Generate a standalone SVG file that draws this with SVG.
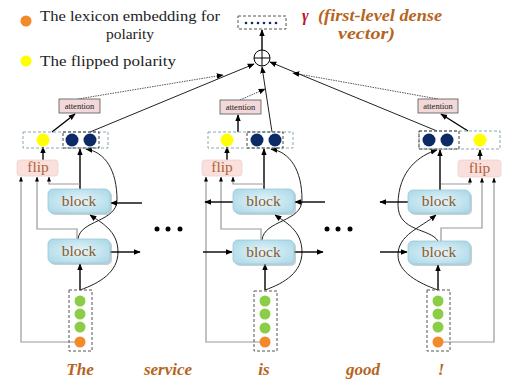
<svg xmlns="http://www.w3.org/2000/svg" width="505" height="381" viewBox="0 0 505 381">
<defs>
<marker id="ah" viewBox="0 0 10 10" refX="9" refY="5" markerWidth="7" markerHeight="7" orient="auto-start-reverse" markerUnits="userSpaceOnUse"><path d="M0,1 L10,5 L0,9 Z" fill="#000"/></marker>
<marker id="ahs" viewBox="0 0 10 10" refX="9" refY="5" markerWidth="5" markerHeight="5" orient="auto" markerUnits="userSpaceOnUse"><path d="M0,1 L10,5 L0,9 Z" fill="#000"/></marker>
<radialGradient id="bg" cx="0.5" cy="0.5" r="0.7"><stop offset="0" stop-color="#e6f5fa"/><stop offset="1" stop-color="#a6d6e6"/></radialGradient>
</defs>
<style>
.t{font-family:"Liberation Serif","DejaVu Serif",serif;}
.blk{fill:url(#bg);stroke:#9cc8d8;stroke-width:0.8;}
.sh{fill:#7a98a4;opacity:0.45;}
.btx{font-family:"Liberation Serif",serif;font-size:15.5px;fill:#8b5a2b;text-anchor:middle;}
.flip{fill:#f9e0dc;stroke:#f3d0cc;stroke-width:0.8;}
.ftx{font-family:"Liberation Serif",serif;font-size:15.5px;fill:#b0603a;text-anchor:middle;}
.att{fill:#f2d8d8;stroke:#555;stroke-width:0.8;}
.atx{font-family:"Liberation Serif",serif;font-size:8.5px;fill:#222;text-anchor:middle;}
.od{fill:none;stroke:#8aa8b4;stroke-width:1;stroke-dasharray:3,2;}
.id{fill:none;stroke:#444;stroke-width:1;stroke-dasharray:3,2;}
.wb{fill:none;stroke:#555;stroke-width:1;stroke-dasharray:3,2;}
.g{fill:#8ccd48;}
.o{fill:#f28a2a;}
.y{fill:#ffff00;}
.d{fill:#0b2a66;}
.k{fill:none;stroke:#000;stroke-width:1.4;marker-end:url(#ah);}
.kc{fill:none;stroke:#222;stroke-width:1;marker-end:url(#ah);}
.gr{fill:none;stroke:#999;stroke-width:1.2;marker-end:url(#ahs);}
.dot{fill:none;stroke:#444;stroke-width:0.9;stroke-dasharray:1.5,1;marker-end:url(#ah);}
.word{font-family:"Liberation Serif",serif;font-size:17px;font-style:italic;font-weight:bold;fill:#b5651d;text-anchor:middle;}
</style>
<rect width="505" height="381" fill="#fff"/>

<g id="legend">
<circle cx="26" cy="21" r="5.5" class="o"/>
<text class="t" x="40" y="21" font-size="15.5" textLength="180" lengthAdjust="spacingAndGlyphs" fill="#222">The lexicon embedding for</text>
<text class="t" x="130" y="39" font-size="15.5" text-anchor="middle" fill="#222">polarity</text>
<circle cx="26" cy="61" r="5.5" class="y"/>
<text class="t" x="40" y="66" font-size="15.5" textLength="136" lengthAdjust="spacingAndGlyphs" fill="#222">The flipped polarity</text>
</g>

<g id="output">
<rect x="238" y="16" width="48" height="13" class="wb"/>
<g class="d"><circle cx="246" cy="23" r="1.3"/><circle cx="252" cy="23" r="1.3"/><circle cx="258" cy="23" r="1.3"/><circle cx="264" cy="23" r="1.3"/><circle cx="270" cy="23" r="1.3"/><circle cx="276" cy="23" r="1.3"/></g>
<text x="302" y="21" font-family="Liberation Serif,serif" font-size="16" font-style="italic" font-weight="bold" fill="#c0142c">γ</text>
<text x="318" y="21" font-family="Liberation Serif,serif" font-size="16" font-style="italic" font-weight="bold" fill="#b5651d" textLength="124" lengthAdjust="spacingAndGlyphs">(first-level dense</text>
<text x="338" y="39" font-family="Liberation Serif,serif" font-size="16" font-style="italic" font-weight="bold" fill="#b5651d" textLength="57" lengthAdjust="spacingAndGlyphs">vector)</text>
</g>

<g id="sum">
<circle cx="262" cy="58" r="8" fill="#fff" stroke="#000" stroke-width="1"/>
<path d="M254,58 H270 M262,50 V66" stroke="#000" stroke-width="1"/>
</g>

<g id="connectors">
<path d="M262,50 V30" class="k"/>
<!-- left column -->
<path d="M80,290 V264" class="k"/>
<path d="M80,290 C100,283 118,272 118,252 C118,230 100,222 90,215" class="kc"/>
<path d="M78,239 C80,220 117,222 117,200 C117,170 105,152 86,149" class="kc"/>
<path d="M80,189 V149" class="k"/>
<path d="M80,342 H21 V177" class="gr"/>
<path d="M77,239 V229 H37 V177" class="gr"/>
<path d="M80,184 H49 V177" class="gr"/>
<path d="M43,160 V147" class="k"/>
<path d="M142,203 H111" class="k"/>
<path d="M110,252 H140" class="k"/>
<path d="M52,132 L75,114" class="k"/>
<path d="M90,132 L254,64" class="kc"/>
<path d="M78,99 L223,75" class="dot"/>
<!-- middle column -->
<path d="M265,290 V264" class="k"/>
<path d="M265,290 C285,283 302,272 302,252 C302,230 285,222 275,215" class="kc"/>
<path d="M262,240 C264,220 302,222 302,200 C302,170 290,152 271,149" class="kc"/>
<path d="M264,189 V149" class="k"/>
<path d="M265,342 H206 V177" class="gr"/>
<path d="M261,240 V229 H221 V177" class="gr"/>
<path d="M264,184 H233 V177" class="gr"/>
<path d="M227,160 V147" class="k"/>
<path d="M233,202 H205" class="k"/>
<path d="M325,202 H295" class="k"/>
<path d="M203,252 H232" class="k"/>
<path d="M294,252 H323" class="k"/>
<path d="M238,132 V115" class="k"/>
<path d="M272,132 L262,67" class="kc"/>
<path d="M240,100 L265,89" class="dot"/>
<!-- right column -->
<path d="M438,290 V265" class="k"/>
<path d="M438,290 C418,283 398,272 398,255 C398,235 420,228 436,215" class="kc"/>
<path d="M438,241 C430,228 398,232 398,205 C398,170 420,155 437,150" class="kc"/>
<path d="M440,190 V150" class="k"/>
<path d="M438,342 H494 V178" class="gr"/>
<path d="M441,241 V228 H482 V178" class="gr"/>
<path d="M441,184 H470 V178" class="gr"/>
<path d="M480,160 V150" class="k"/>
<path d="M408,202 H380" class="k"/>
<path d="M380,252 H407" class="k"/>
<path d="M468,131 L441,114" class="k"/>
<path d="M437,131 L270,62" class="kc"/>
<path d="M438,99 L293,73" class="dot"/>
</g>

<g id="ellipsis">
<circle cx="157" cy="229" r="2.5"/><circle cx="168" cy="229" r="2.5"/><circle cx="180" cy="229" r="2.5"/>
<circle cx="327" cy="229" r="2.5"/><circle cx="338" cy="229" r="2.5"/><circle cx="350" cy="229" r="2.5"/>
</g>

<!-- Left column nodes -->
<g id="L-word"><rect x="69" y="290" width="23" height="61" class="wb"/><circle cx="80" cy="301" r="5.5" class="g"/><circle cx="80" cy="314" r="5.5" class="g"/><circle cx="80" cy="327" r="5.5" class="g"/><circle cx="80" cy="342" r="5.5" class="o"/></g>
<g id="L-block1"><rect x="50" y="241" width="62" height="24" rx="5" class="sh"/><rect x="48" y="239" width="62" height="24" rx="5" class="blk"/><text x="79" y="256" class="btx">block</text></g>
<g id="L-block2"><rect x="50" y="191" width="62" height="24" rx="5" class="sh"/><rect x="48" y="189" width="62" height="24" rx="5" class="blk"/><text x="79" y="206" class="btx">block</text></g>
<g id="L-flip"><rect x="17" y="160" width="41" height="16" rx="3" class="flip"/><text x="38" y="172" class="ftx">flip</text></g>
<g id="L-state"><rect x="23" y="132" width="85" height="16" class="od"/><rect x="63" y="132" width="36" height="16" class="id"/><circle cx="43" cy="140" r="6.5" class="y"/><circle cx="72" cy="140" r="6.5" class="d"/><circle cx="90" cy="140" r="6.5" class="d"/></g>
<g id="L-att"><rect x="59" y="99" width="41" height="14" class="att"/><text x="79.5" y="109" class="atx">attention</text></g>

<!-- Middle column nodes -->
<g id="M-word"><rect x="254" y="291" width="23" height="60" class="wb"/><circle cx="265" cy="301" r="5.5" class="g"/><circle cx="265" cy="314" r="5.5" class="g"/><circle cx="265" cy="328" r="5.5" class="g"/><circle cx="265" cy="342" r="5.5" class="o"/></g>
<g id="M-block1"><rect x="235" y="242" width="61" height="24" rx="5" class="sh"/><rect x="233" y="240" width="61" height="24" rx="5" class="blk"/><text x="263.5" y="257" class="btx">block</text></g>
<g id="M-block2"><rect x="235" y="191" width="61" height="24" rx="5" class="sh"/><rect x="233" y="189" width="61" height="24" rx="5" class="blk"/><text x="263.5" y="206" class="btx">block</text></g>
<g id="M-flip"><rect x="202" y="160" width="40" height="16" rx="3" class="flip"/><text x="222" y="172" class="ftx">flip</text></g>
<g id="M-state"><rect x="208" y="132" width="85" height="16" class="od"/><rect x="247" y="132" width="36" height="16" class="id"/><circle cx="227" cy="140" r="6.5" class="y"/><circle cx="257" cy="140" r="6.5" class="d"/><circle cx="275" cy="140" r="6.5" class="d"/></g>
<g id="M-att"><rect x="220" y="100" width="41" height="14" class="att"/><text x="240.5" y="110" class="atx">attention</text></g>

<!-- Right column nodes -->
<g id="R-word"><rect x="427" y="290" width="23" height="61" class="wb"/><circle cx="438" cy="301" r="5.5" class="g"/><circle cx="438" cy="314" r="5.5" class="g"/><circle cx="438" cy="327" r="5.5" class="g"/><circle cx="438" cy="342" r="5.5" class="o"/></g>
<g id="R-block1"><rect x="410" y="243" width="62" height="23" rx="5" class="sh"/><rect x="408" y="241" width="62" height="23" rx="5" class="blk"/><text x="439" y="257" class="btx">block</text></g>
<g id="R-block2"><rect x="410" y="192" width="62" height="23" rx="5" class="sh"/><rect x="408" y="190" width="62" height="23" rx="5" class="blk"/><text x="439" y="206" class="btx">block</text></g>
<g id="R-flip"><rect x="458" y="160" width="43" height="17" rx="3" class="flip"/><text x="479.5" y="173" class="ftx">flip</text></g>
<g id="R-state"><rect x="419" y="131" width="81" height="18" class="od"/><rect x="419" y="131" width="40" height="18" class="id"/><circle cx="480" cy="140" r="6.5" class="y"/><circle cx="429" cy="140" r="6.5" class="d"/><circle cx="447" cy="140" r="6.5" class="d"/></g>
<g id="R-att"><rect x="418" y="99" width="40" height="14" class="att"/><text x="438" y="109" class="atx">attention</text></g>

<g id="words">
<text x="80" y="375" class="word">The</text>
<text x="168" y="375" class="word">service</text>
<text x="264" y="375" class="word">is</text>
<text x="363" y="375" class="word">good</text>
<text x="441" y="375" class="word">!</text>
</g>
</svg>
